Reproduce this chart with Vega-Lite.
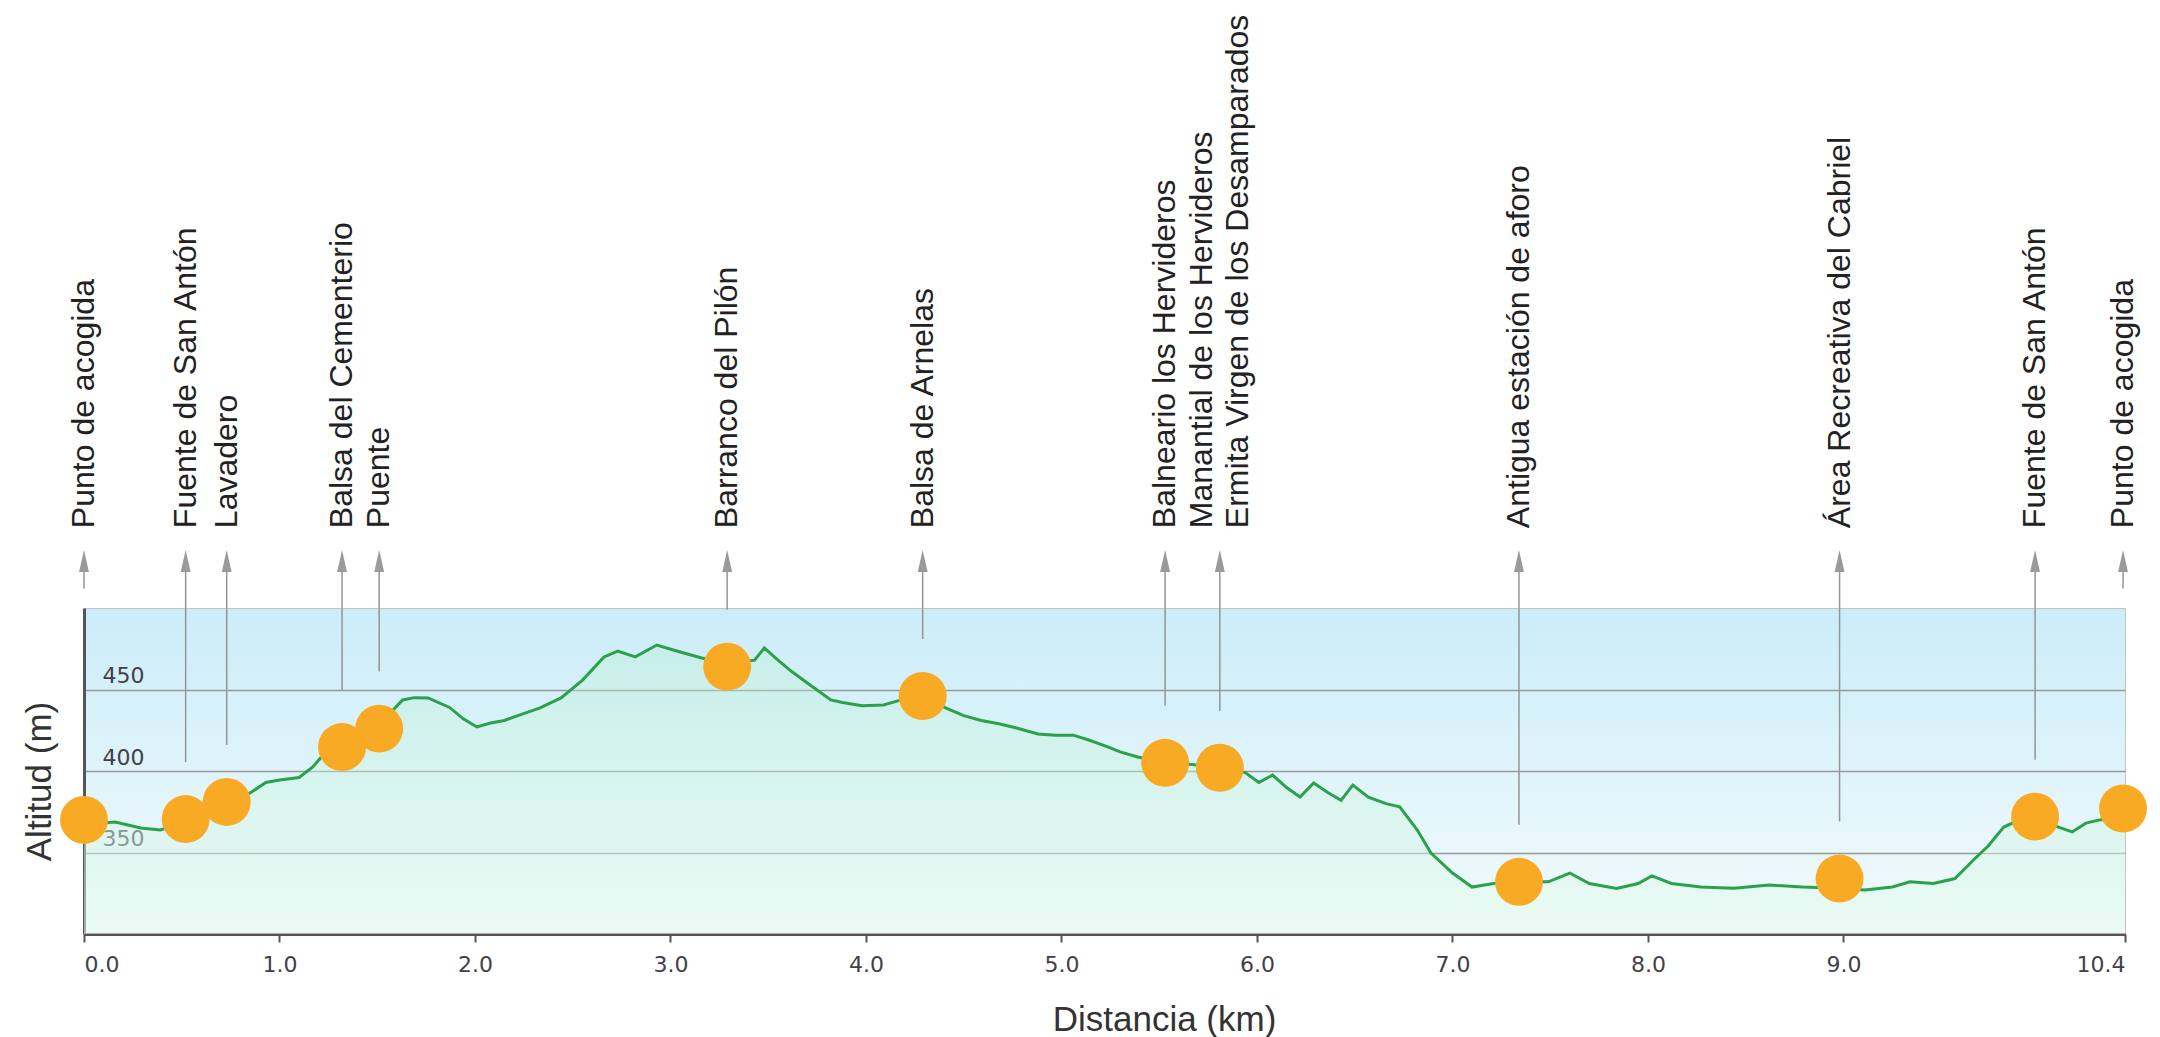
{
  "$schema": "https://vega.github.io/schema/vega-lite/v6.json",
  "width": 2041,
  "height": 326,
  "autosize": {"type": "none"},
  "padding": {"left": 84, "top": 608, "right": 35, "bottom": 103},
  "background": "#ffffff",
  "datasets": {
    "profile": [
      {"km": 0.00, "alt": 370}, {"km": 0.08, "alt": 368}, {"km": 0.16, "alt": 368.7}, {"km": 0.29, "alt": 365},
      {"km": 0.39, "alt": 363.8}, {"km": 0.45, "alt": 366}, {"km": 0.52, "alt": 370.5}, {"km": 0.62, "alt": 375},
      {"km": 0.73, "alt": 381}, {"km": 0.85, "alt": 386.5}, {"km": 0.93, "alt": 393}, {"km": 1.00, "alt": 394.5},
      {"km": 1.10, "alt": 396}, {"km": 1.17, "alt": 402.5}, {"km": 1.21, "alt": 408}, {"km": 1.32, "alt": 414.7},
      {"km": 1.42, "alt": 420}, {"km": 1.51, "alt": 426}, {"km": 1.57, "alt": 436}, {"km": 1.63, "alt": 443.6},
      {"km": 1.69, "alt": 445}, {"km": 1.76, "alt": 444.8}, {"km": 1.87, "alt": 439}, {"km": 1.94, "alt": 432},
      {"km": 2.01, "alt": 427}, {"km": 2.08, "alt": 429.4}, {"km": 2.15, "alt": 431}, {"km": 2.23, "alt": 434.4},
      {"km": 2.33, "alt": 438.6}, {"km": 2.44, "alt": 444.8}, {"km": 2.55, "alt": 455.8}, {"km": 2.66, "alt": 470},
      {"km": 2.73, "alt": 473.6}, {"km": 2.82, "alt": 470}, {"km": 2.93, "alt": 477.3}, {"km": 3.05, "alt": 473},
      {"km": 3.16, "alt": 469.3}, {"km": 3.29, "alt": 466}, {"km": 3.43, "alt": 468}, {"km": 3.48, "alt": 475.5},
      {"km": 3.55, "alt": 468}, {"km": 3.62, "alt": 461}, {"km": 3.70, "alt": 454}, {"km": 3.82, "alt": 443.6},
      {"km": 3.88, "alt": 442}, {"km": 3.98, "alt": 440}, {"km": 4.09, "alt": 440.5}, {"km": 4.18, "alt": 443.6},
      {"km": 4.29, "alt": 446}, {"km": 4.41, "alt": 438.6}, {"km": 4.50, "alt": 434}, {"km": 4.59, "alt": 431},
      {"km": 4.68, "alt": 429}, {"km": 4.77, "alt": 426.4}, {"km": 4.88, "alt": 422.7}, {"km": 4.97, "alt": 422},
      {"km": 5.06, "alt": 422}, {"km": 5.14, "alt": 419}, {"km": 5.24, "alt": 414.7}, {"km": 5.30, "alt": 411.7},
      {"km": 5.39, "alt": 408.6}, {"km": 5.53, "alt": 405}, {"km": 5.67, "alt": 404}, {"km": 5.81, "alt": 402},
      {"km": 5.94, "alt": 399}, {"km": 6.01, "alt": 393}, {"km": 6.08, "alt": 397.5}, {"km": 6.15, "alt": 390},
      {"km": 6.22, "alt": 384}, {"km": 6.29, "alt": 392.6}, {"km": 6.36, "alt": 387}, {"km": 6.43, "alt": 382},
      {"km": 6.49, "alt": 391.4}, {"km": 6.57, "alt": 384}, {"km": 6.66, "alt": 380}, {"km": 6.73, "alt": 378},
      {"km": 6.82, "alt": 363.8}, {"km": 6.89, "alt": 349.7}, {"km": 7.00, "alt": 337.4}, {"km": 7.10, "alt": 328.8},
      {"km": 7.21, "alt": 331}, {"km": 7.34, "alt": 332}, {"km": 7.49, "alt": 332}, {"km": 7.60, "alt": 337.4},
      {"km": 7.70, "alt": 331}, {"km": 7.84, "alt": 328}, {"km": 7.95, "alt": 331}, {"km": 8.02, "alt": 335.6},
      {"km": 8.12, "alt": 331}, {"km": 8.27, "alt": 328.8}, {"km": 8.44, "alt": 328}, {"km": 8.62, "alt": 330},
      {"km": 8.79, "alt": 328.8}, {"km": 8.98, "alt": 328}, {"km": 9.11, "alt": 327}, {"km": 9.25, "alt": 328.8},
      {"km": 9.34, "alt": 332}, {"km": 9.46, "alt": 331}, {"km": 9.57, "alt": 334}, {"km": 9.67, "alt": 346},
      {"km": 9.74, "alt": 354}, {"km": 9.82, "alt": 365.6}, {"km": 9.90, "alt": 370}, {"km": 9.98, "alt": 372},
      {"km": 10.10, "alt": 365.6}, {"km": 10.17, "alt": 362.6}, {"km": 10.24, "alt": 368}, {"km": 10.31, "alt": 370},
      {"km": 10.44, "alt": 372}
    ],
    "pois": [
      {"km": 0.00, "alt": 370, "label": "Punto de acogida"},
      {"km": 0.52, "alt": 370.5, "label": "Fuente de San Antón"},
      {"km": 0.73, "alt": 381, "label": "Lavadero"},
      {"km": 1.32, "alt": 414.7, "label": "Balsa del Cementerio"},
      {"km": 1.51, "alt": 426, "label": "Puente"},
      {"km": 3.29, "alt": 464, "label": "Barranco del Pilón"},
      {"km": 4.29, "alt": 446, "label": "Balsa de Arnelas"},
      {"km": 5.53, "alt": 405, "label": "Balneario los Hervideros"},
      {"km": 5.81, "alt": 402, "label": ["Manantial de los Hervideros", "Ermita Virgen de los Desamparados"]},
      {"km": 7.34, "alt": 332, "label": "Antigua estación de aforo"},
      {"km": 8.98, "alt": 334, "label": "Área Recreativa del Cabriel"},
      {"km": 9.98, "alt": 372, "label": "Fuente de San Antón"},
      {"km": 10.43, "alt": 377, "label": "Punto de acogida"}
    ]
  },
  "encoding": {
    "x": {
      "field": "km", "type": "quantitative",
      "scale": {"domain": [0, 10.44], "nice": false, "zero": false},
      "axis": {
        "values": [0, 1, 2, 3, 4, 5, 6, 7, 8, 9, 10.44],
        "format": ".1f",
        "labelFlush": true,
        "grid": false,
        "domainColor": "#555555", "domainWidth": 3,
        "tickColor": "#555555", "tickWidth": 2, "tickSize": 8,
        "labelFont": "DejaVu Sans", "labelFontSize": 22, "labelColor": "#433f4a",
        "labelPadding": 12,
        "title": "Distancia (km)",
        "titleFont": "Liberation Sans", "titleFontSize": 35, "titleFontWeight": "normal", "titleColor": "#333333",
        "titleX": 1080, "titleY": 96, "titleBaseline": "alphabetic"
      }
    }
  },
  "layer": [
    {
      "data": {"name": "profile"},
      "mark": {
        "type": "area",
        "clip": true,
        "color": {
          "gradient": "linear", "x1": 0, "y1": 0, "x2": 0, "y2": 1,
          "stops": [
            {"offset": 0, "color": "rgba(185,238,210,0.35)"},
            {"offset": 1, "color": "rgba(228,250,238,0.55)"}
          ]
        }
      },
      "encoding": {
        "y": {
          "field": "alt", "type": "quantitative",
          "scale": {"domain": [300, 500], "nice": false, "zero": false},
          "axis": {
            "values": [350, 400, 450],
            "grid": true, "gridColor": "#999999", "gridWidth": 1.5,
            "ticks": false, "tickSize": 0,
            "domainColor": "#555555", "domainWidth": 3,
            "labelAlign": "left", "labelPadding": -18, "labelBaseline": "alphabetic", "labelOffset": -7,
            "labelFont": "DejaVu Sans", "labelFontSize": 22, "labelColor": "#433f4a",
            "title": "Altitud (m)",
            "titleFont": "Liberation Sans", "titleFontSize": 35, "titleFontWeight": "normal", "titleColor": "#333333",
            "titleX": -34, "titleY": 173, "titleBaseline": "alphabetic"
          }
        },
        "y2": {"datum": 300}
      }
    },
    {
      "data": {"name": "profile"},
      "mark": {"type": "line", "color": "#2ba14b", "strokeWidth": 3},
      "encoding": {"y": {"field": "alt", "type": "quantitative"}}
    },
    {
      "data": {"name": "pois"},
      "transform": [{"filter": "datum.km > 0.1 && datum.km < 10.3"}],
      "mark": {"type": "rule", "color": "#959595", "strokeWidth": 1.5, "yOffset": -57},
      "encoding": {
        "y": {"field": "alt", "type": "quantitative"},
        "y2": {"datum": 528.8}
      }
    },
    {
      "data": {"name": "pois"},
      "transform": [{"filter": "datum.km <= 0.1 || datum.km >= 10.3"}],
      "mark": {"type": "rule", "color": "#959595", "strokeWidth": 1.5},
      "encoding": {
        "y": {"datum": 512, "type": "quantitative"},
        "y2": {"datum": 528.8}
      }
    },
    {
      "data": {"name": "pois"},
      "mark": {"type": "point", "shape": "M0,-1L0.45,1L-0.45,1Z", "size": 484, "filled": true, "color": "#9a9a9a", "opacity": 1},
      "encoding": {"y": {"datum": 528.8, "type": "quantitative"}}
    },
    {
      "data": {"name": "pois"},
      "mark": {"type": "point", "shape": "circle", "size": 2300, "filled": true, "color": "#f9aa24", "opacity": 1},
      "encoding": {"y": {"field": "alt", "type": "quantitative"}}
    },
    {
      "data": {"name": "pois"},
      "transform": [{"filter": "!isArray(datum.label)"}],
      "mark": {"type": "text", "angle": 270, "align": "left", "baseline": "middle", "font": "Liberation Sans", "fontSize": 32, "color": "#222222"},
      "encoding": {
        "y": {"datum": 549, "type": "quantitative"},
        "text": {"field": "label", "type": "nominal"}
      }
    },
    {
      "data": {"name": "pois"},
      "transform": [{"filter": "isArray(datum.label)"}],
      "mark": {"type": "text", "angle": 270, "align": "left", "baseline": "middle", "font": "Liberation Sans", "fontSize": 32, "color": "#222222", "lineHeight": 36, "dy": -18},
      "encoding": {
        "y": {"datum": 549, "type": "quantitative"},
        "text": {"field": "label", "type": "nominal"}
      }
    }
  ],
  "config": {
    "view": {
      "fill": {
        "gradient": "linear", "x1": 0, "y1": 0, "x2": 0, "y2": 1,
        "stops": [
          {"offset": 0, "color": "#cbedf9"},
          {"offset": 1, "color": "#f3fbfc"}
        ]
      },
      "stroke": "#c4c4c4", "strokeWidth": 1
    }
  }
}
